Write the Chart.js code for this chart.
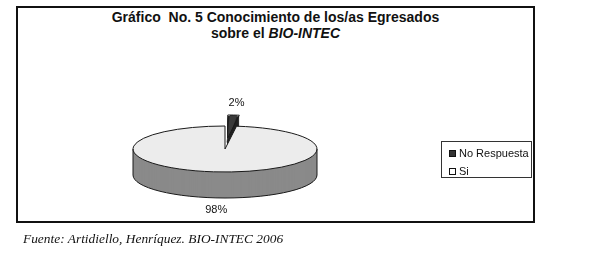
<!DOCTYPE html>
<html>
<head>
<meta charset="utf-8">
<script src="https://cdn.jsdelivr.net/npm/chart.js@4"></script>
<style>
  body { margin: 0; width: 606px; height: 269px; background: #fff; position: relative; overflow: hidden;
         font-family: "Liberation Sans", Arial, sans-serif; color: #111; }
  #frame { position: absolute; left: 16px; top: 6px; width: 515px; height: 213px; border: 2px solid #111; }
  #title { position: absolute; left: 16px; width: 519px; top: 9px; text-align: center; font-weight: bold;
           font-size: 14px; line-height: 16px; white-space: pre; }
  #title i { font-style: italic; }
  #legend { position: absolute; left: 441px; top: 141px; width: 89px; height: 35px; border: 1px solid #333; font-size: 11px; }
  .item { position: absolute; left: 7px; height: 12px; line-height: 12px; white-space: nowrap; }
  .sw { display: inline-block; width: 5px; height: 5px; border: 1px solid #111; margin-right: 3px; vertical-align: 0; }
  #source { position: absolute; left: 23px; top: 231px; font-family: "Liberation Serif", serif; font-style: italic; font-size: 13.4px; }
  canvas { position: absolute; left: 0; top: 0; }
</style>
</head>
<body>
<div id="frame"></div>
<div id="title">Gráfico  No. 5 Conocimiento de los/as Egresados
sobre el <i>BIO-INTEC</i></div>
<canvas id="pie" width="606" height="269"></canvas>
<div id="legend"></div>
<div id="source">Fuente: Artidiello, Henríquez. BIO-INTEC 2006</div>
<script>
const categories = ['No Respuesta', 'Si'];
const percentages = [2, 98];
const valueLabels = ['2%', '98%'];

const sliceColors = ['#3a3a3a', '#ececec'];
const sideColors = ['#222222', '#8a8a8a'];
const swatchColors = ['#333333', '#ffffff'];
const explode = [94, 0];

// 3D look: vertical squash of the pie and thickness of its side
const SQUASH = 0.25;
const DEPTH = 26;
const labelDist = [184, 140];

// same shift ArcElement.draw applies for `offset`
function arcShift(arc) {
  const off = (arc.options.offset || 0) / 4;
  const fix = 1 - Math.sin(Math.min(Math.PI, arc.circumference || 0));
  const t = off * (1 + fix);
  const mid = (arc.startAngle + arc.endAngle) / 2;
  return [Math.cos(mid) * t, Math.sin(mid) * t * SQUASH];
}

function sectorPath(ctx, x, y, r, a0, a1) {
  ctx.beginPath();
  ctx.moveTo(x, y);
  ctx.ellipse(x, y, r, r * SQUASH, 0, a0, a1);
  ctx.closePath();
}

const pie3d = {
  id: 'pie3d',
  beforeDatasetsDraw(chart) {
    const ctx = chart.ctx;
    const arcs = chart.getDatasetMeta(0).data;
    arcs.forEach((arc, i) => {
      const [dx, dy] = arcShift(arc);
      ctx.fillStyle = sideColors[i];
      for (let d = DEPTH; d > 0; d--) {
        sectorPath(ctx, arc.x + dx, arc.y + dy + d, arc.outerRadius, arc.startAngle, arc.endAngle);
        ctx.fill();
      }
    });
    const cx = arcs[0].x, cy = arcs[0].y;
    ctx.save();
    ctx.translate(cx, cy);
    ctx.scale(1, SQUASH);
    ctx.translate(-cx, -cy);
  },
  afterDatasetsDraw(chart) {
    const ctx = chart.ctx;
    ctx.restore();
    const arcs = chart.getDatasetMeta(0).data;
    ctx.save();
    ctx.strokeStyle = '#1a1a1a';
    ctx.lineWidth = 1;
    arcs.forEach((arc) => {
      const [dx, dy] = arcShift(arc);
      sectorPath(ctx, arc.x + dx, arc.y + dy, arc.outerRadius, arc.startAngle, arc.endAngle);
      ctx.stroke();
    });
    const m = arcs[1], r = m.outerRadius;
    ctx.beginPath();
    ctx.moveTo(m.x - r, m.y);
    ctx.lineTo(m.x - r, m.y + DEPTH);
    ctx.ellipse(m.x, m.y + DEPTH, r, r * SQUASH, 0, Math.PI, 0, true);
    ctx.lineTo(m.x + r, m.y);
    ctx.stroke();

    ctx.fillStyle = '#111';
    ctx.font = '11px "Liberation Sans", Arial, sans-serif';
    ctx.textAlign = 'center';
    ctx.textBaseline = 'middle';
    arcs.forEach((arc, i) => {
      const mid = (arc.startAngle + arc.endAngle) / 2;
      const s = Math.sin(mid);
      const x = arc.x + Math.cos(mid) * labelDist[i];
      const y = arc.y + s * labelDist[i] * SQUASH + (s > 0 ? DEPTH : 0);
      ctx.fillText(valueLabels[i], x, y);
    });
    ctx.restore();
  }
};

new Chart(document.getElementById('pie'), {
  type: 'pie',
  data: {
    labels: categories,
    datasets: [{
      data: percentages,
      backgroundColor: sliceColors,
      borderWidth: 0,
      offset: explode,
      radius: 92,
      clip: false
    }]
  },
  options: {
    responsive: false,
    animation: false,
    events: [],
    layout: { padding: { left: 100, right: 256, top: 40, bottom: 11 } },
    plugins: { legend: { display: false }, tooltip: { enabled: false } }
  },
  plugins: [pie3d]
});

// legend box
const legend = document.getElementById('legend');
categories.forEach((c, i) => {
  const item = document.createElement('div');
  item.className = 'item';
  item.style.top = (5 + i * 18) + 'px';
  item.innerHTML = '<span class="sw" style="background:' + swatchColors[i] + '"></span>' + c;
  legend.appendChild(item);
});
</script>
</body>
</html>
